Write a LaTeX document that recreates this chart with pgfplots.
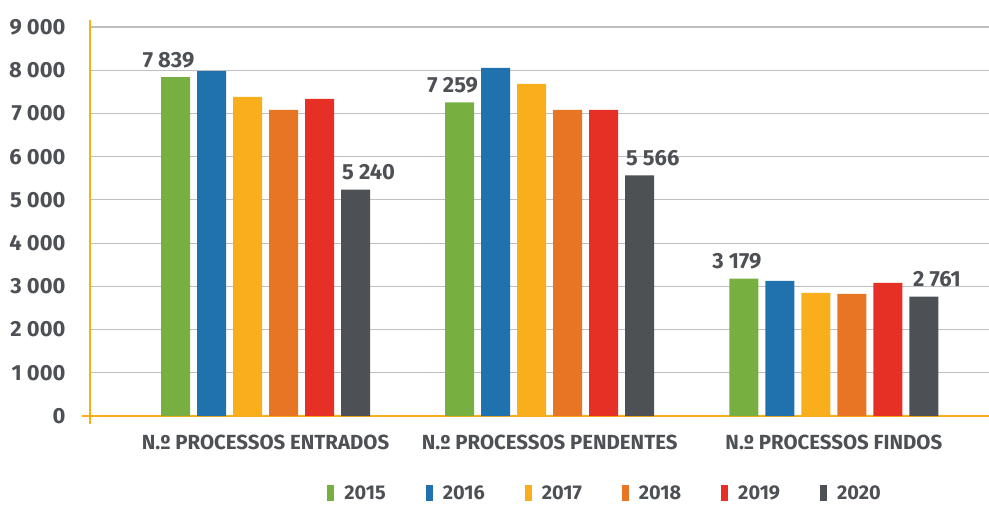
\documentclass[border=0pt]{standalone}
\usepackage{fontspec}
\setmainfont{Fira Sans}
\usepackage{pgfplots}
\pgfplotsset{compat=1.18}

\definecolor{c2015}{HTML}{77AF41}
\definecolor{c2016}{HTML}{2072AF}
\definecolor{c2017}{HTML}{F9AE1B}
\definecolor{c2018}{HTML}{E87524}
\definecolor{c2019}{HTML}{E63025}
\definecolor{c2020}{HTML}{4D5054}
\definecolor{txtgray}{HTML}{4D5054}
\definecolor{axisline}{HTML}{F9AE1B}

\begin{document}
\begin{tikzpicture}
\path[use as bounding box] (-90bp,-91bp) rectangle (899bp,416bp);
\begin{axis}[
    scale only axis,
    width=899bp, height=389bp,
    xmin=-0.618, xmax=2.546,
    ymin=0, ymax=9000,
    ybar=7bp, bar width=29bp,
    axis lines=left,
    x axis line style={-, draw=axisline, line width=2bp, shorten <=-8bp},
    y axis line style={-, draw=axisline, line width=2bp, shorten <=-8bp, shorten >=-7bp},
    major tick length=0pt,
    ytick={0,1000,...,9000},
    ymajorgrids,
    grid style={draw=black!25, line width=1.2bp},
    xtick={0,1,2},
    xticklabels={N.º PROCESSOS ENTRADOS, N.º PROCESSOS PENDENTES, N.º PROCESSOS FINDOS},
    /pgf/number format/assume math mode=true,
    /pgf/number format/1000 sep={\ },
    yticklabel style={font=\bfseries\fontsize{22}{25}\selectfont, text=txtgray, xshift=-21bp},
    xticklabel style={font=\bfseries\fontsize{20.5}{23}\selectfont, text=txtgray, yshift=-15bp},
    legend columns=6,
    legend style={at={(0.573,-0.2)}, anchor=center, draw=none, fill=none,
        font=\bfseries\fontsize{20}{23}\selectfont, text=txtgray,
        /tikz/every even column/.append style={column sep=38bp}},
    legend image code/.code={\fill[#1,draw=none] (0bp,-7.5bp) rectangle (7bp,8.5bp);},
    every node near coord/.append style={font=\bfseries\fontsize{22}{25}\selectfont, text=txtgray, yshift=6bp},
]
\addplot[fill=c2015, draw=none, nodes near coords, every node near coord/.append style={xshift=-7bp}]
    coordinates {(0,7839) (1,7259) (2,3179)};
\addplot[fill=c2016, draw=none] coordinates {(0,7980) (1,8055) (2,3125)};
\addplot[fill=c2017, draw=none] coordinates {(0,7384) (1,7685) (2,2847)};
\addplot[fill=c2018, draw=none] coordinates {(0,7083) (1,7083) (2,2824)};
\addplot[fill=c2019, draw=none] coordinates {(0,7338) (1,7083) (2,3079)};
\addplot[fill=c2020, draw=none, nodes near coords, every node near coord/.append style={xshift=13bp}]
    coordinates {(0,5240) (1,5566) (2,2761)};
\legend{\hspace{8bp}2015,\hspace{8bp}2016,\hspace{8bp}2017,\hspace{8bp}2018,\hspace{8bp}2019,\hspace{8bp}2020}
\end{axis}
\end{tikzpicture}
\end{document}
